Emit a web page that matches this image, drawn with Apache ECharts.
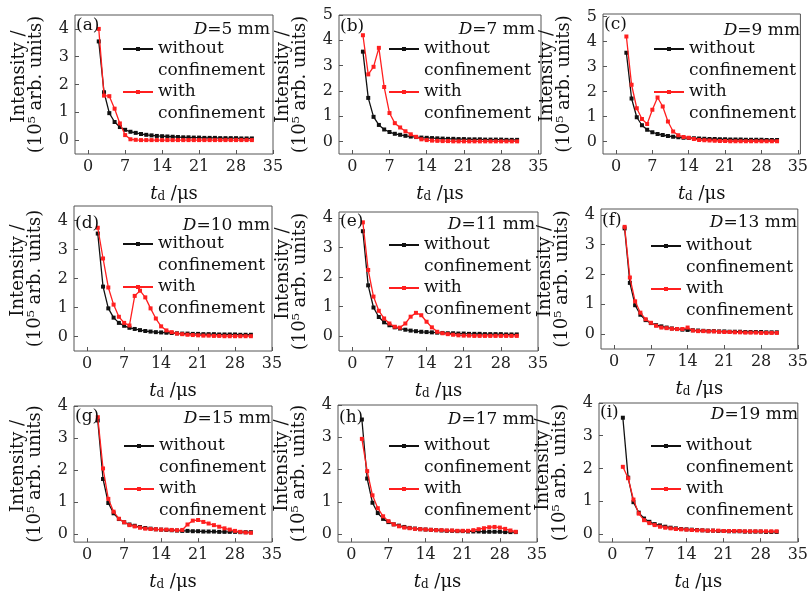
<!DOCTYPE html>
<html>
<head>
<meta charset="utf-8">
<script src="https://cdn.jsdelivr.net/npm/echarts@6/dist/echarts.min.js"></script>
<style>
  html, body { margin: 0; padding: 0; background: #ffffff; }
  #chart { width: 811px; height: 592px; }
</style>
</head>
<body>
<div id="chart"></div>
<script>
// Delay time t_d (µs) of every measured point
const delayTimes = [2, 3, 4, 5, 6, 7, 8, 9, 10, 11, 12, 13, 14, 15, 16, 17, 18, 19, 20, 21, 22, 23, 24, 25, 26, 27, 28, 29, 30, 31];

// Emission intensity (10^5 arb. units) without the confining walls (same in every panel)
const withoutConfinement = [3.55, 1.72, 0.97, 0.65, 0.47, 0.37, 0.30, 0.26, 0.22, 0.19, 0.17, 0.15, 0.14, 0.13, 0.12, 0.11, 0.10, 0.10, 0.09, 0.09, 0.08, 0.08, 0.08, 0.07, 0.07, 0.07, 0.07, 0.06, 0.06, 0.06];

// Emission intensity with confinement, one list per wall spacing D
const withD5  = [4.00, 1.60, 1.58, 1.13, 0.60, 0.18, 0.03, 0.01, 0.00, 0.00, 0.00, 0.00, 0.00, 0.00, 0.00, 0.00, 0.00, 0.00, 0.00, 0.00, 0.00, 0.00, 0.00, 0.00, 0.00, 0.00, 0.00, 0.00, 0.00, 0.00];
const withD7  = [4.20, 2.65, 2.95, 3.70, 2.15, 1.12, 0.72, 0.55, 0.40, 0.28, 0.18, 0.08, 0.05, 0.03, 0.02, 0.01, 0.01, 0.00, 0.00, 0.00, 0.00, 0.00, 0.00, 0.00, 0.00, 0.00, 0.00, 0.00, 0.00, 0.00];
const withD9  = [4.20, 2.27, 1.33, 0.90, 0.70, 1.27, 1.76, 1.40, 0.80, 0.40, 0.25, 0.18, 0.15, 0.10, 0.06, 0.05, 0.04, 0.03, 0.02, 0.02, 0.01, 0.01, 0.01, 0.01, 0.01, 0.01, 0.01, 0.01, 0.01, 0.01];
const withD10 = [3.75, 2.69, 1.69, 1.10, 0.68, 0.47, 0.38, 1.40, 1.58, 1.35, 0.97, 0.62, 0.35, 0.21, 0.15, 0.10, 0.08, 0.06, 0.05, 0.04, 0.03, 0.03, 0.02, 0.02, 0.01, 0.01, 0.01, 0.01, 0.01, 0.01];
const withD11 = [3.85, 2.24, 1.34, 0.86, 0.60, 0.43, 0.32, 0.29, 0.43, 0.66, 0.79, 0.71, 0.49, 0.30, 0.15, 0.10, 0.07, 0.05, 0.03, 0.02, 0.02, 0.01, 0.01, 0.01, 0.01, 0.01, 0.01, 0.01, 0.01, 0.01];
const withD13 = [3.60, 1.90, 1.10, 0.72, 0.50, 0.38, 0.28, 0.22, 0.20, 0.18, 0.17, 0.17, 0.22, 0.12, 0.10, 0.10, 0.09, 0.09, 0.08, 0.07, 0.07, 0.06, 0.06, 0.05, 0.05, 0.05, 0.04, 0.04, 0.04, 0.04];
const withD15 = [3.65, 2.05, 1.10, 0.70, 0.48, 0.37, 0.28, 0.24, 0.20, 0.17, 0.16, 0.15, 0.14, 0.14, 0.13, 0.12, 0.13, 0.30, 0.42, 0.44, 0.38, 0.33, 0.28, 0.23, 0.18, 0.14, 0.10, 0.07, 0.05, 0.04];
const withD17 = [2.95, 1.95, 1.20, 0.80, 0.55, 0.40, 0.30, 0.24, 0.20, 0.18, 0.16, 0.15, 0.14, 0.13, 0.12, 0.12, 0.11, 0.11, 0.10, 0.10, 0.10, 0.12, 0.15, 0.18, 0.21, 0.22, 0.20, 0.16, 0.11, 0.07];
const withD19 = [2.05, 1.70, 1.05, 0.62, 0.42, 0.33, 0.27, 0.22, 0.19, 0.17, 0.15, 0.14, 0.13, 0.12, 0.11, 0.11, 0.10, 0.10, 0.10, 0.09, 0.09, 0.09, 0.09, 0.08, 0.08, 0.08, 0.08, 0.08, 0.08, 0.08];

// Panel tags and wall spacings (mm)
const panelTags = ['(a)', '(b)', '(c)', '(d)', '(e)', '(f)', '(g)', '(h)', '(i)'];
const wallSpacings = ['5', '7', '9', '10', '11', '13', '15', '17', '19'];
const seriesNames = ['without confinement', 'with confinement'];

// Tick labels
const xTickValues = [0, 7, 14, 21, 28, 35];
const yTicksToFive = [0, 1, 2, 3, 4, 5];
const yTicksToFour = [0, 1, 2, 3, 4];

const confinedLists = [withD5, withD7, withD9, withD10, withD11, withD13, withD15, withD17, withD19];

// Placement of each panel: grid box [left, top, width, height], axis ranges,
// legend anchor, vertical centre of the corner texts and right edge of the D text
const panels = [
  { box: [75, 15, 198, 139],  x: [-2.5, 35],   y: [-0.5, 4.5], ticks: yTicksToFour, lg: [122, 49],  tagY: 26,  dY: 30,  dRight: 270 },
  { box: [339, 15, 202, 139], x: [-2.5, 35.5], y: [-0.5, 5],   ticks: yTicksToFive, lg: [388, 49],  tagY: 27,  dY: 30,  dRight: 535 },
  { box: [603, 14, 203, 140], x: [-2.5, 35.5], y: [-0.5, 5.1], ticks: yTicksToFive, lg: [653, 49],  tagY: 25,  dY: 31,  dRight: 800 },
  { box: [74, 206, 198, 145], x: [-2.5, 35],   y: [-0.5, 4.5], ticks: yTicksToFour, lg: [122, 244], tagY: 224, dY: 226, dRight: 270 },
  { box: [339, 212, 199, 139],x: [-2.5, 35],   y: [-0.5, 4.2], ticks: yTicksToFour, lg: [388, 245], tagY: 222, dY: 225, dRight: 535 },
  { box: [601, 209, 197, 140],x: [-2.5, 35],   y: [-0.5, 4.2], ticks: yTicksToFour, lg: [650, 246], tagY: 221, dY: 223, dRight: 797 },
  { box: [74, 406, 198, 139], x: [-2.5, 35],   y: [-0.25, 4],  ticks: yTicksToFour, lg: [123, 446], tagY: 417, dY: 419, dRight: 271 },
  { box: [338, 405, 199, 139],x: [-2.5, 35],   y: [-0.25, 4],  ticks: yTicksToFour, lg: [388, 446], tagY: 418, dY: 420, dRight: 535 },
  { box: [599, 403, 200, 140],x: [-2.5, 35],   y: [-0.25, 4],  ticks: yTicksToFour, lg: [650, 446], tagY: 413, dY: 415, dRight: 798 }
];

const serif = 'DejaVu Serif';
const ink = '#111111';
const frame = '#555555';
const black = '#111111';
const red = '#ff1f1f';
const pageWidth = 811;
const legendLine = 21.5;

const grids = [], xAxes = [], yAxes = [], series = [], legends = [], titles = [];

panels.forEach((p, i) => {
  grids.push({
    left: p.box[0], top: p.box[1], width: p.box[2], height: p.box[3],
    show: true, borderColor: frame, borderWidth: 1, backgroundColor: 'transparent'
  });

  xAxes.push({
    type: 'value', gridIndex: i, min: p.x[0], max: p.x[1],
    axisLine: { show: false, onZero: false },
    splitLine: { show: false },
    axisTick: { inside: true, length: 4, lineStyle: { color: frame }, customValues: xTickValues },
    axisLabel: { customValues: xTickValues, fontFamily: serif, fontSize: 16, color: '#222', margin: 5 },
    name: '{i|t}{s|d}{n| /μs}',
    nameLocation: 'middle',
    nameGap: 16,
    nameTextStyle: {
      color: ink,
      rich: {
        i: { fontFamily: serif, fontSize: 18, fontStyle: 'italic', color: ink, lineHeight: 18 },
        s: { fontFamily: serif, fontSize: 12, color: ink, lineHeight: 12, verticalAlign: 'bottom', padding: [15, 0, 0, 0] },
        n: { fontFamily: serif, fontSize: 18, color: ink, lineHeight: 18 }
      }
    }
  });

  yAxes.push({
    type: 'value', gridIndex: i, min: p.y[0], max: p.y[1],
    axisLine: { show: false, onZero: false },
    splitLine: { show: false },
    axisTick: { inside: true, length: 4, lineStyle: { color: frame }, customValues: p.ticks },
    axisLabel: { customValues: p.ticks, fontFamily: serif, fontSize: 16, color: '#222', margin: 6 },
    name: '{a|Intensity /}\n{b|(10⁵ arb. units)}',
    nameLocation: 'middle',
    nameRotate: 90,
    nameGap: 30,
    nameTextStyle: {
      color: ink,
      rich: {
        a: { fontFamily: serif, fontSize: 18, color: ink, lineHeight: 17, padding: [0, 0, 0, 16] },
        b: { fontFamily: serif, fontSize: 18, color: ink, lineHeight: 17 }
      }
    }
  });

  series.push({
    type: 'line', name: seriesNames[0], xAxisIndex: i, yAxisIndex: i,
    data: delayTimes.map((t, k) => [t, withoutConfinement[k]]),
    symbol: 'rect', symbolSize: 4, showAllSymbol: true,
    lineStyle: { color: black, width: 1.3 },
    itemStyle: { color: black },
    animation: false, z: 2
  });
  series.push({
    type: 'line', name: seriesNames[1], xAxisIndex: i, yAxisIndex: i,
    data: delayTimes.map((t, k) => [t, confinedLists[i][k]]),
    symbol: 'rect', symbolSize: 4, showAllSymbol: true,
    lineStyle: { color: red, width: 1.3 },
    itemStyle: { color: red },
    animation: false, z: 3
  });

  // One legend per entry; a blank first line keeps the marker beside the first word
  seriesNames.forEach((name, k) => {
    legends.push({
      orient: 'vertical', left: p.lg[0], top: p.lg[1] + k * 2 * legendLine - 1.5 * legendLine, padding: 0,
      itemWidth: 30, itemHeight: 5, itemGap: 0,
      data: [name],
      selectedMode: false,
      formatter: n => '\n' + n.replace(' ', '\n'),
      textStyle: { fontFamily: serif, fontSize: 17, color: ink, lineHeight: legendLine }
    });
  });

  titles.push({
    text: panelTags[i], left: p.box[0] + 1, top: p.tagY - 9, padding: 0,
    textStyle: { fontFamily: serif, fontSize: 17, fontWeight: 'normal', color: ink }
  });
  titles.push({
    text: '{i|D}{n|=' + wallSpacings[i] + ' mm}', right: pageWidth - p.dRight, top: p.dY - 9, padding: 0,
    textStyle: {
      fontWeight: 'normal',
      rich: {
        i: { fontFamily: serif, fontSize: 17, fontStyle: 'italic', color: ink },
        n: { fontFamily: serif, fontSize: 17, color: ink }
      }
    }
  });
});

const chart = echarts.init(document.getElementById('chart'), null, { renderer: 'canvas' });
chart.setOption({
  backgroundColor: '#ffffff',
  animation: false,
  title: titles,
  legend: legends,
  grid: grids,
  xAxis: xAxes,
  yAxis: yAxes,
  series: series
});
</script>
</body>
</html>
